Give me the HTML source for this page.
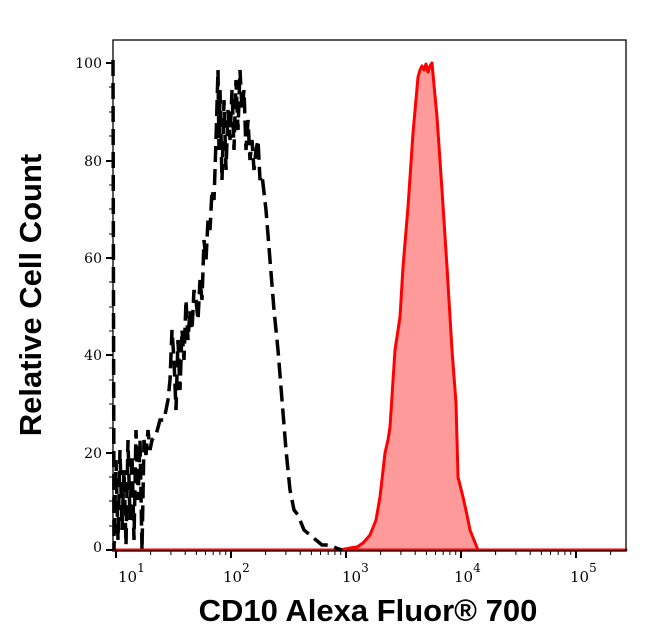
<!DOCTYPE html>
<html><head><meta charset="utf-8"><style>
body{margin:0;background:#fff;}
svg{display:block;}
text{font-family:"DejaVu Serif","Liberation Serif",serif;}
</style></head><body>
<svg width="646" height="641" viewBox="0 0 646 641" xmlns="http://www.w3.org/2000/svg">
<rect width="646" height="641" fill="#fff"/>
<path d="M113,550 L340,550 L350,548 L357,547 L363,543 L370,535 L376,520 L380,497 L385,453 L388,440 L390,427 L395,350 L400,317 L403,267 L408,207 L413,133 L418,77 L420,70 L422,66 L424,70 L426,64 L428,72 L430,66 L432,63 L434,85 L437,117 L442,190 L447,267 L452,350 L456,403 L458,477 L463,497 L467,515 L470,530 L474,540 L478,550 L626,550 Z" fill="#ff9a9a" stroke="#f00" stroke-width="3" stroke-linejoin="round"/>
<polyline fill="none" stroke="#000" stroke-width="3.5" stroke-dasharray="16,7"
points="113,60 114,550 116,460 118,540 120,450 122,530 124,470 126,545 128,440 130,520 132,455 134,540 136,430 138,500 140,440 142,550 144,440 146,455 148,430 150,450 152,440 156,435 160,420 164,420 168,400 170,380 172,330 174,360 176,410 178,340 180,390 182,330 184,360 186,300 188,340 190,310 192,330 194,290 196,300 198,320 200,280 202,300 204,240 206,260 208,220 210,230 212,190 214,200 216,140 218,70 219,150 220,90 222,180 224,100 226,170 228,110 230,140 232,90 234,150 236,80 238,130 240,70 242,110 244,90 246,150 248,120 250,160 252,140 254,170 256,150 258,140 260,180 262,175 266,210 270,260 274,310 278,350 282,400 286,450 290,490 294,510 298,515 304,530 310,535 316,540 322,545 330,545 336,548 342,550"/>
<rect x="113" y="40" width="513" height="511" fill="none" stroke="#000" stroke-width="1.3"/>
<g stroke="#000" stroke-width="2">
<line x1="106" y1="63" x2="113" y2="63"/><line x1="106" y1="161" x2="113" y2="161"/><line x1="106" y1="258" x2="113" y2="258"/><line x1="106" y1="355" x2="113" y2="355"/><line x1="106" y1="453" x2="113" y2="453"/><line x1="106" y1="550" x2="113" y2="550"/>
</g>
<g stroke="#000" stroke-width="1">
<line x1="109" y1="112" x2="113" y2="112"/><line x1="109" y1="209" x2="113" y2="209"/><line x1="109" y1="307" x2="113" y2="307"/><line x1="109" y1="404" x2="113" y2="404"/><line x1="109" y1="501" x2="113" y2="501"/>
<line x1="109" y1="87" x2="113" y2="87"/><line x1="109" y1="136" x2="113" y2="136"/><line x1="109" y1="185" x2="113" y2="185"/><line x1="109" y1="234" x2="113" y2="234"/><line x1="109" y1="282" x2="113" y2="282"/><line x1="109" y1="331" x2="113" y2="331"/><line x1="109" y1="380" x2="113" y2="380"/><line x1="109" y1="428" x2="113" y2="428"/><line x1="109" y1="477" x2="113" y2="477"/><line x1="109" y1="526" x2="113" y2="526"/>
</g>
<g font-size="14" text-anchor="end" fill="#000">
<text x="102" y="68">100</text><text x="102" y="166">80</text><text x="102" y="263">60</text><text x="102" y="360">40</text><text x="102" y="458">20</text><text x="102" y="552">0</text>
</g>
<g stroke="#000" stroke-width="2">
<line x1="116" y1="551" x2="116" y2="558"/><line x1="231" y1="551" x2="231" y2="558"/><line x1="346" y1="551" x2="346" y2="558"/><line x1="461" y1="551" x2="461" y2="558"/><line x1="576" y1="551" x2="576" y2="558"/>
</g>
<g stroke="#000" stroke-width="1">
<line x1="150.6" y1="551" x2="150.6" y2="555"/><line x1="170.9" y1="551" x2="170.9" y2="555"/><line x1="185.2" y1="551" x2="185.2" y2="555"/><line x1="196.4" y1="551" x2="196.4" y2="555"/><line x1="205.5" y1="551" x2="205.5" y2="555"/><line x1="213.2" y1="551" x2="213.2" y2="555"/><line x1="219.9" y1="551" x2="219.9" y2="555"/><line x1="225.7" y1="551" x2="225.7" y2="555"/>
<line x1="265.6" y1="551" x2="265.6" y2="555"/><line x1="285.9" y1="551" x2="285.9" y2="555"/><line x1="300.2" y1="551" x2="300.2" y2="555"/><line x1="311.4" y1="551" x2="311.4" y2="555"/><line x1="320.5" y1="551" x2="320.5" y2="555"/><line x1="328.2" y1="551" x2="328.2" y2="555"/><line x1="334.9" y1="551" x2="334.9" y2="555"/><line x1="340.7" y1="551" x2="340.7" y2="555"/>
<line x1="380.6" y1="551" x2="380.6" y2="555"/><line x1="400.9" y1="551" x2="400.9" y2="555"/><line x1="415.2" y1="551" x2="415.2" y2="555"/><line x1="426.4" y1="551" x2="426.4" y2="555"/><line x1="435.5" y1="551" x2="435.5" y2="555"/><line x1="443.2" y1="551" x2="443.2" y2="555"/><line x1="449.9" y1="551" x2="449.9" y2="555"/><line x1="455.7" y1="551" x2="455.7" y2="555"/>
<line x1="495.6" y1="551" x2="495.6" y2="555"/><line x1="515.9" y1="551" x2="515.9" y2="555"/><line x1="530.2" y1="551" x2="530.2" y2="555"/><line x1="541.4" y1="551" x2="541.4" y2="555"/><line x1="550.5" y1="551" x2="550.5" y2="555"/><line x1="558.2" y1="551" x2="558.2" y2="555"/><line x1="564.9" y1="551" x2="564.9" y2="555"/><line x1="570.7" y1="551" x2="570.7" y2="555"/>
<line x1="610.6" y1="551" x2="610.6" y2="555"/>
</g>
<g font-size="15" fill="#000">
<text x="118" y="582">10<tspan font-size="12" dy="-10">1</tspan></text>
<text x="223" y="582">10<tspan font-size="12" dy="-10">2</tspan></text>
<text x="342" y="582">10<tspan font-size="12" dy="-10">3</tspan></text>
<text x="454" y="582">10<tspan font-size="12" dy="-10">4</tspan></text>
<text x="570" y="582">10<tspan font-size="12" dy="-10">5</tspan></text>
</g>
<text x="368" y="621" text-anchor="middle" font-size="31" font-weight="bold" style="font-family:'Liberation Sans',sans-serif">CD10 Alexa Fluor® 700</text>
<text transform="translate(41,295) rotate(-90)" text-anchor="middle" font-size="31" font-weight="bold" style="font-family:'Liberation Sans',sans-serif">Relative Cell Count</text>
</svg>
</body></html>
